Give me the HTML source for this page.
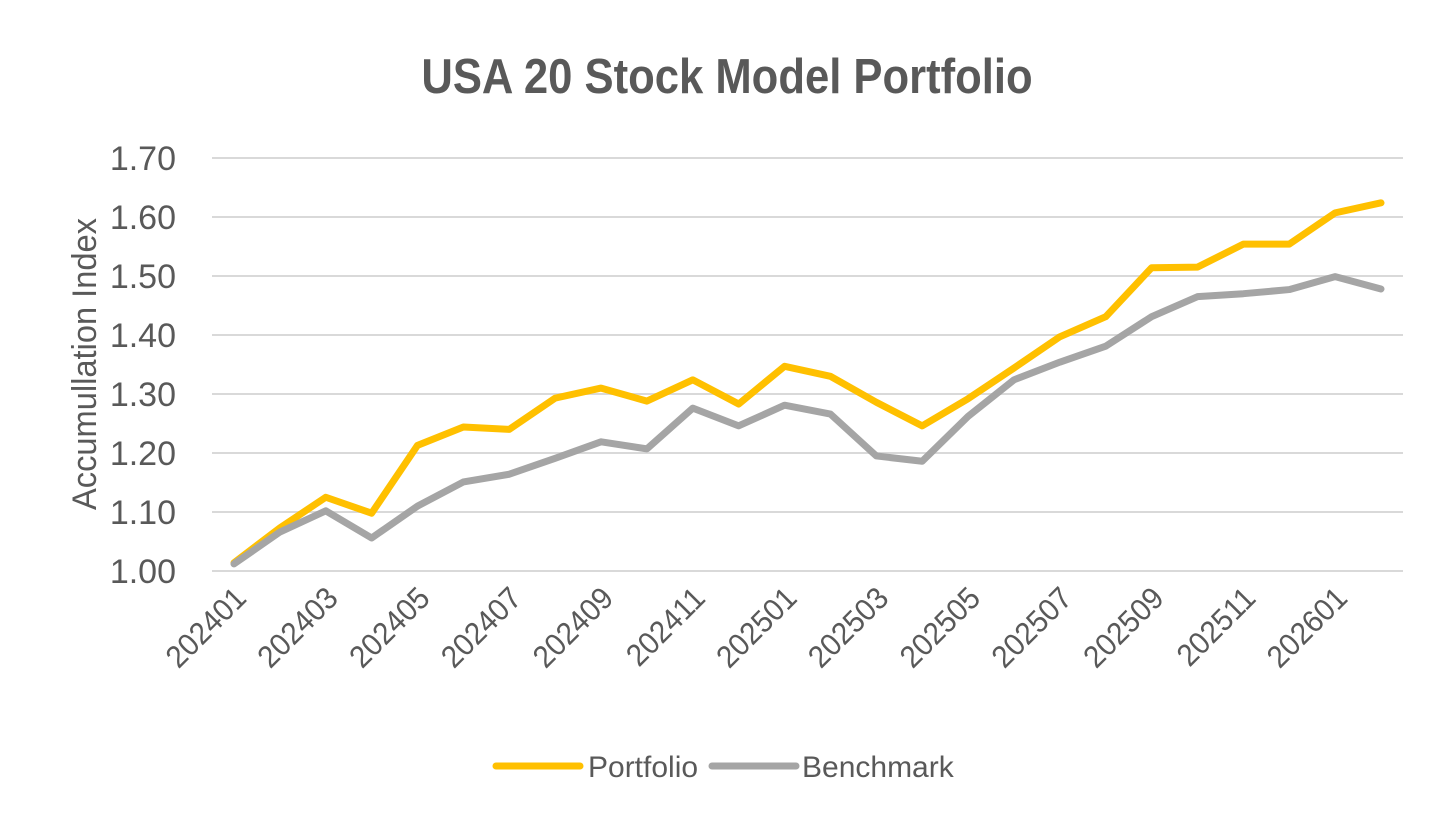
<!DOCTYPE html>
<html><head><meta charset="utf-8"><style>
body{margin:0;background:#fff;}
svg text{font-family:"Liberation Sans Narrow","Liberation Sans",sans-serif;fill:#595959;}
</style></head><body>
<svg width="1456" height="826">
<text transform="translate(727,93) scale(0.89,1)" text-anchor="middle" font-size="49" font-weight="bold">USA 20 Stock Model Portfolio</text>
<text transform="translate(96,364) rotate(-90) scale(0.96,1)" text-anchor="middle" font-size="34">Accumullation Index</text>
<g id="grid"></g><g id="yt"></g><g id="xt"></g><g id="lines"></g>
<g>
<line x1="496" y1="766" x2="580" y2="766" stroke="#FFC000" stroke-width="7" stroke-linecap="round"/>
<text x="588" y="777" font-size="30">Portfolio</text>
<line x1="712" y1="766" x2="796" y2="766" stroke="#A5A5A5" stroke-width="7" stroke-linecap="round"/>
<text x="802" y="777" font-size="30">Benchmark</text>
</g>
</svg>
<script>
const categories=["202401","202402","202403","202404","202405","202406","202407","202408","202409","202410","202411","202412","202501","202502","202503","202504","202505","202506","202507","202508","202509","202510","202511","202512","202601","202602"];
const portfolio=[1.014,1.073,1.125,1.098,1.213,1.244,1.240,1.293,1.310,1.288,1.324,1.283,1.347,1.330,1.286,1.246,1.292,1.344,1.397,1.431,1.514,1.515,1.554,1.554,1.607,1.624];
const benchmark=[1.012,1.066,1.102,1.056,1.110,1.151,1.164,1.191,1.219,1.207,1.276,1.246,1.281,1.266,1.195,1.186,1.262,1.324,1.354,1.381,1.431,1.465,1.470,1.477,1.499,1.478];
const yTicks=[1.00,1.10,1.20,1.30,1.40,1.50,1.60,1.70];
const NS="http://www.w3.org/2000/svg";
const x=i=>234+i*(1381-234)/(categories.length-1);
const y=v=>571-(v-1.0)*590;
function mk(t,a,p){const e=document.createElementNS(NS,t);for(const k in a)e.setAttribute(k,a[k]);p.appendChild(e);return e;}
const grid=document.getElementById('grid'),yt=document.getElementById('yt'),xt=document.getElementById('xt'),lines=document.getElementById('lines');
yTicks.forEach(v=>{
 const l=mk('line',{x1:212,x2:1403,y1:y(v),y2:y(v),stroke:'#D9D9D9','stroke-width':2},grid);
 
 
 const t=mk('text',{x:176,y:y(v)+12,'text-anchor':'end','font-size':34},yt);
 t.textContent=v.toFixed(2);
 
 
});
categories.forEach((c,i)=>{
 if(i%2)return;
 const t=mk('text',{'text-anchor':'end','font-size':31,transform:`translate(${x(i)+14},${600}) rotate(-45) scale(0.95,1)`},xt);
 t.textContent=c;
 
 
});
function series(d,col,name){
 const p=mk('polyline',{points:d.map((v,i)=>x(i)+','+y(v)).join(' '),fill:'none',stroke:col,'stroke-width':7,'stroke-linejoin':'round','stroke-linecap':'round'},lines);
 
 
}
series(portfolio,'#FFC000','portfolio-line');
series(benchmark,'#A5A5A5','benchmark-line');
</script>
</body></html>
